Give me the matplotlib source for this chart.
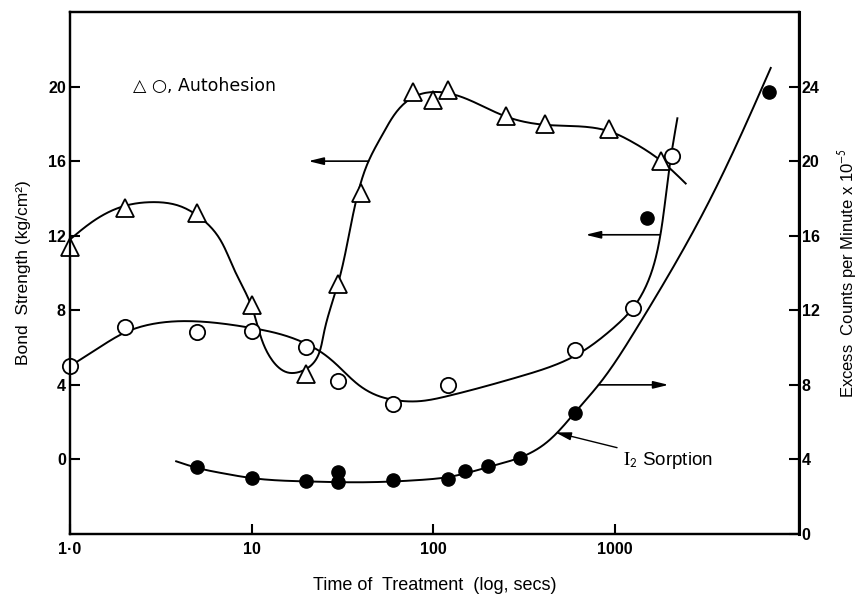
import numpy as np
import matplotlib
matplotlib.use("Agg")
import matplotlib.pyplot as plt

plt.rcParams['font.family'] = ['Liberation Sans', 'DejaVu Sans']
plt.rcParams['mathtext.fontset'] = 'stix'

# Autohesion, triangles (bond strength, left axis)
tri_t = [1.0, 2.0, 5.0, 10, 20, 30, 40, 77, 100, 120, 250, 410, 930, 1800]
tri_b = [11.4, 13.5, 13.2, 8.3, 4.6, 9.4, 14.3, 19.7, 19.3, 19.8, 18.4, 18.0, 17.7, 16.0]

# Autohesion, open circles (bond strength, left axis)
circ_t = [1.0, 2.0, 5.0, 10, 20, 30, 60, 120, 600, 1250, 2070]
circ_b = [5.0, 7.1, 6.85, 6.9, 6.05, 4.2, 2.95, 4.0, 5.85, 8.1, 16.3]

# I2 sorption, filled circles (excess counts, right axis)
sorp_t = [5, 10, 20, 30, 30, 60, 120, 150, 200, 300, 600, 1500, 7000]
sorp_c = [3.6, 3.0, 2.83, 3.3, 2.8, 2.9, 2.94, 3.4, 3.65, 4.1, 6.5, 16.95, 23.7]

# hand drawn curves, nodes
tri_curve_t = [1.0, 1.4, 2.0, 2.8, 4.0, 5.0, 6.5, 8.0, 10, 12.6, 16, 19, 22, 25,
               30, 38.5, 44, 53, 66, 80, 110, 250, 410, 930, 1260, 1800, 2450]
tri_curve_b = [11.8, 12.9, 13.6, 13.8, 13.6, 13.1, 12.0, 10.2, 8.2, 5.5, 4.65, 4.75, 5.2, 6.8,
               9.5, 14.3, 16.0, 17.5, 18.9, 19.5, 19.7, 18.4, 17.95, 17.6, 17.0, 16.0, 14.8]
circ_curve_t = [1.0, 1.5, 2.0, 3.7, 6.0, 10, 14, 20, 25, 30, 40, 50, 60, 85, 120,
                300, 600, 966, 1250, 1513, 1775, 1995, 2205]
circ_curve_b = [5.0, 6.1, 6.8, 7.4, 7.35, 7.05, 6.75, 6.2, 5.65, 5.0, 3.9, 3.4, 3.2, 3.13, 3.4,
                4.45, 5.55, 7.0, 8.1, 9.5, 12.0, 15.7, 18.3]
sorp_curve_t = [3.84, 5, 7, 10, 20, 45, 85, 120, 164, 220, 300, 400, 600,
                812, 1290, 3240, 7200]
sorp_curve_c = [3.9, 3.55, 3.25, 3.0, 2.82, 2.78, 2.9, 3.05, 3.35, 3.7, 4.1, 4.75, 6.5,
                8.0, 10.9, 17.7, 25.0]

x_ticks = [1, 10, 100, 1000]
x_labels = ['1\u00b70', '10', '100', '1000']


def spline1d(s, v, sn):
    n = len(s)
    h = np.diff(s)
    A = np.zeros((n, n))
    r = np.zeros(n)
    A[0, 0] = A[-1, -1] = 1
    for i in range(1, n - 1):
        A[i, i - 1] = h[i - 1]
        A[i, i] = 2 * (h[i - 1] + h[i])
        A[i, i + 1] = h[i]
        r[i] = 6 * ((v[i + 1] - v[i]) / h[i] - (v[i] - v[i - 1]) / h[i - 1])
    M = np.linalg.solve(A, r)
    k = np.clip(np.searchsorted(s, sn) - 1, 0, n - 2)
    t = sn - s[k]
    hk = h[k]
    c = (v[k + 1] - v[k]) / hk - hk * (2 * M[k] + M[k + 1]) / 6
    return v[k] + c * t + M[k] / 2 * t ** 2 + (M[k + 1] - M[k]) / (6 * hk) * t ** 3


def smooth(xs, ys, n=400):
    # natural cubic spline along chord length, in pixel-like units
    u = np.log10(xs) * 181.5
    y = np.asarray(ys, float) * 18.7
    s = np.concatenate([[0], np.cumsum(np.hypot(np.diff(u), np.diff(y)))])
    sn = np.linspace(0, s[-1], n)
    return 10 ** (spline1d(s, u, sn) / 181.5), spline1d(s, y, sn) / 18.7


fig = plt.figure(figsize=(8.62, 5.96), dpi=100)
ax = fig.add_axes([70 / 862, 1 - 534 / 596, 729 / 862, 522 / 596])
ax2 = ax.twinx()

ax.set_xscale('log')
ax.set_xlim(1, 10300)
ax.set_ylim(-4, 24)
ax2.set_ylim(0, 28)

lw = 1.4
ax.plot(*smooth(tri_curve_t, tri_curve_b), color='black', lw=lw, zorder=2)
ax.plot(*smooth(circ_curve_t, circ_curve_b), color='black', lw=lw, zorder=2)
ax2.plot(*smooth(sorp_curve_t, sorp_curve_c), color='black', lw=lw, zorder=2)

ax.plot(tri_t, tri_b, '^', ms=13, mfc='white', mec='black', mew=1.3, zorder=4, clip_on=False)
ax.plot(circ_t, circ_b, 'o', ms=11, mfc='white', mec='black', mew=1.3, zorder=4, clip_on=False)
ax2.plot(sorp_t, sorp_c, 'o', ms=9.5, mfc='black', mec='black', zorder=4, clip_on=False)

arr = dict(arrowstyle='-|>,head_length=0.9,head_width=0.22', color='black', lw=1.2,
           shrinkA=0, shrinkB=0)
ax.annotate('', xy=(20.5, 16.0), xytext=(44, 16.0), arrowprops=arr)
ax.annotate('', xy=(688, 12.05), xytext=(1775, 12.05), arrowprops=arr)
ax2.annotate('', xy=(1973, 8.0), xytext=(812, 8.0), arrowprops=arr)
ax2.annotate(r'$\mathrm{I}_{\mathsf{2}}$ Sorption', xy=(470, 5.45), xytext=(1100, 3.96),
             fontsize=13.5, va='center', ha='left',
             arrowprops=dict(arrowstyle='-|>,head_length=0.7,head_width=0.18', color='black',
                             lw=1.0, shrinkA=2, shrinkB=0))

ax.text(2.22, 20.05, '\u25b3 \u25cb, Autohesion', fontsize=12.5, va='center', ha='left',
        family=['DejaVu Sans', 'Liberation Sans'])

ax.set_xticks(x_ticks)
ax.set_xticklabels(x_labels)
ax.xaxis.set_minor_locator(matplotlib.ticker.NullLocator())
ax.set_yticks([0, 4, 8, 12, 16, 20])
ax2.set_yticks([0, 4, 8, 12, 16, 20, 24])

ax.tick_params(axis='x', direction='in', length=7, width=1.5, pad=6, labelsize=11.5)
ax.tick_params(axis='y', direction='in', length=7, width=1.5, pad=3, labelsize=11.5)
ax2.tick_params(axis='y', direction='in', length=7, width=1.5, pad=2, labelsize=11.5)
for lab in ax.get_xticklabels() + ax.get_yticklabels() + ax2.get_yticklabels():
    lab.set_fontweight('bold')

for a in (ax, ax2):
    for s in a.spines.values():
        s.set_linewidth(1.6)
ax2.spines['right'].set_linewidth(2.2)

ax.set_xlabel('Time of  Treatment  (log, secs)', fontsize=13, labelpad=14)
ax.set_ylabel('Bond  Strength (kg/cm\u00b2)', fontsize=12.5, labelpad=12)
ax2.set_ylabel(r'Excess  Counts per Minute x 10$^{\mathsf{-5}}$', fontsize=12, labelpad=12)

fig.savefig('out.png', dpi=100)
